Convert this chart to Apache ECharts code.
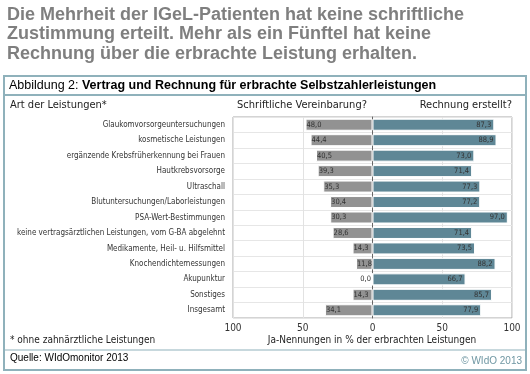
<!DOCTYPE html>
<html><head><meta charset="utf-8">
<script src="https://cdn.jsdelivr.net/npm/echarts@6/dist/echarts.min.js"></script>
<style>html,body{margin:0;padding:0;background:#fff}#c{width:530px;height:374px}</style>
</head><body><div id="c"></div>
<script>
const categories = ["Glaukomvorsorgeuntersuchungen","kosmetische Leistungen","ergänzende Krebsfrüherkennung bei Frauen","Hautkrebsvorsorge","Ultraschall","Blutuntersuchungen/Laborleistungen","PSA-Wert-Bestimmungen","keine vertragsärztlichen Leistungen, vom G-BA abgelehnt","Medikamente, Heil- u. Hilfsmittel","Knochendichtemessungen","Akupunktur","Sonstiges","Insgesamt"];
const vereinbarung = [48.0,44.4,40.5,39.3,35.3,30.4,30.3,28.6,14.3,11.8,0.0,14.3,34.1];
const rechnung = [87.3,88.9,73.0,71.4,77.3,77.2,97.0,71.4,73.5,88.2,66.7,85.7,77.9];
const xTicks = [-100,-50,0,50,100];

const fmt = v => Math.abs(v).toFixed(1).replace('.', ',');
const condensed = '"DejaVu Sans Condensed","Liberation Sans Narrow","Roboto Condensed",Roboto,sans-serif';
const chart = echarts.init(document.getElementById('c'));
chart.setOption({
  animation:false,
  grid:{left:233, top:117, width:279, height:201, containLabel:false, outerBoundsMode:'none', show:true, borderColor:'#a8a8a8', borderWidth:1, backgroundColor:'#fff'},
  xAxis:{type:'value', min:xTicks[0], max:xTicks[xTicks.length-1], interval:50,
    axisLine:{show:false}, axisTick:{show:false},
    splitLine:{show:true, lineStyle:{color:'#e2e2e2'}},
    axisLabel:{formatter:v=>String(Math.abs(v)), color:'#333', fontSize:10, fontFamily:condensed, margin:5}},
  yAxis:{type:'category', data:categories, inverse:true,
    axisLine:{show:true, lineStyle:{color:'#666'}}, axisTick:{show:false},
    splitLine:{show:true, lineStyle:{color:'#e6e6e6'}},
    axisLabel:{color:'#333', fontSize:8, fontFamily:condensed, margin:8}},
  series:[
    {type:'bar', name:'Schriftliche Vereinbarung?', barWidth:12, barGap:'-100%',
     data:vereinbarung.map(v=>({value:-v, label: v===0?{position:'left'}:undefined})),
     itemStyle:{color:'#929292', borderColor:'#fff', borderWidth:1},
     label:{show:true, position:'insideLeft', distance:1, formatter:p=>fmt(p.value), color:'#333', fontSize:7.5, fontFamily:condensed}},
    {type:'bar', name:'Rechnung erstellt?', barWidth:12,
     data:rechnung,
     itemStyle:{color:'#5f8796', borderColor:'#fff', borderWidth:1},
     label:{show:true, position:'insideRight', distance:3, formatter:p=>fmt(p.value), color:'#333', fontSize:7.5, fontFamily:condensed}}
  ],
  graphic:[
    {type:'text', left:7, top:5, style:{text:'Die Mehrheit der IGeL-Patienten hat keine schriftliche\nZustimmung erteilt. Mehr als ein Fünftel hat keine\nRechnung über die erbrachte Leistung erhalten.', fill:'#7f7f7f', font:'bold 18px "Liberation Sans",Arial,sans-serif', lineHeight:19.5}},
    {type:'rect', shape:{x:4, y:76, width:522, height:294}, style:{fill:'none', stroke:'#8fb1bb', lineWidth:2}, z:-1},
    {type:'line', shape:{x1:4, y1:95, x2:526, y2:95}, style:{stroke:'#8fb1bb', lineWidth:2}},
    {type:'line', shape:{x1:4, y1:350, x2:526, y2:350}, style:{stroke:'#8fb1bb', lineWidth:1}},
    {type:'text', left:9, top:79, style:{rich:{a:{font:'12.5px "Liberation Sans",Arial,sans-serif', fill:'#000'}, b:{font:'bold 12.5px "Liberation Sans",Arial,sans-serif', fill:'#000'}}, text:'{a|Abbildung 2: }{b|Vertrag und Rechnung für erbrachte Selbstzahlerleistungen}'}},
    {type:'text', left:10, top:100, style:{text:'Art der Leistungen*', font:'11px '+condensed, fill:'#222'}},
    {type:'text', x:302, y:100, style:{text:'Schriftliche Vereinbarung?', font:'11px '+condensed, fill:'#222', textAlign:'center'}},
    {type:'text', x:512, y:100, style:{text:'Rechnung erstellt?', font:'11px '+condensed, fill:'#222', textAlign:'right'}},
    {type:'text', left:10, top:335, style:{text:'* ohne zahnärztliche Leistungen', font:'10px '+condensed, fill:'#222'}},
    {type:'text', x:372, y:335, style:{text:'Ja-Nennungen in % der erbrachten Leistungen', font:'10px '+condensed, fill:'#222', textAlign:'center'}},
    {type:'text', left:10, top:353, style:{text:'Quelle: WIdOmonitor 2013', font:'10px "Liberation Sans",Arial,sans-serif', fill:'#000'}},
    {type:'text', x:522, y:356, style:{text:'© WIdO 2013', font:'10px "Liberation Sans",Arial,sans-serif', fill:'#6f97a3', textAlign:'right'}}
  ]
});
</script></body></html>
